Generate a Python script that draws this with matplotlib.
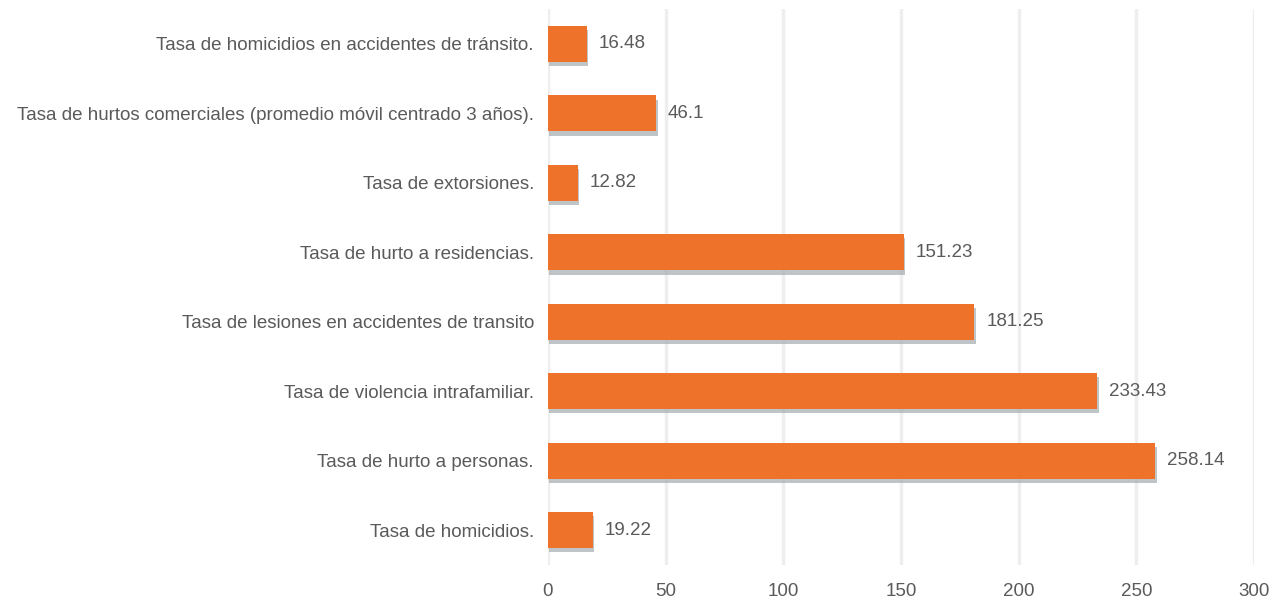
import matplotlib
matplotlib.use("Agg")
import matplotlib.pyplot as plt
import matplotlib.patheffects as pe
from matplotlib import font_manager

# data (top to bottom as in the picture)
categorias = [
    "Tasa de homicidios en accidentes de tránsito.",
    "Tasa de hurtos comerciales (promedio móvil centrado 3 años).",
    "Tasa de extorsiones.",
    "Tasa de hurto a residencias.",
    "Tasa de lesiones en accidentes de transito",
    "Tasa de violencia intrafamiliar.",
    "Tasa de hurto a personas.",
    "Tasa de homicidios.",
]
valores = [16.48, 46.1, 12.82, 151.23, 181.25, 233.43, 258.14, 19.22]
etiquetas = ["16.48", "46.1", "12.82", "151.23", "181.25", "233.43", "258.14", "19.22"]
ticks_x = [0, 50, 100, 150, 200, 250, 300]

nombres = {f.name for f in font_manager.fontManager.ttflist}
familia = "Liberation Sans Narrow" if "Liberation Sans Narrow" in nombres else "Liberation Sans"
plt.rcParams["font.family"] = [familia, "DejaVu Sans"]

gris = "#5a5a5a"
fs = 13.5

fig = plt.figure(figsize=(12.77, 6.16), dpi=100)
ax = fig.add_axes([0.429, 0.083, 0.553, 0.902])

pos = list(range(len(categorias)))[::-1]
barras = ax.barh(pos, valores, height=0.52, color="#ef722a", zorder=3)
for b in barras:
    b.set_path_effects([pe.SimplePatchShadow(offset=(1, -3), shadow_rgbFace="#a4abb0", alpha=0.7), pe.Normal()])

for y, v, t in zip(pos, valores, etiquetas):
    ax.text(v + 5, y, t, va="center", ha="left", fontsize=fs, color=gris)

ax.set_xlim(0, 300)
ax.set_ylim(-0.5, len(categorias) - 0.5)
ax.set_xticks(ticks_x)
ax.set_yticks(pos)
ax.set_yticklabels(categorias)
ax.tick_params(axis="both", length=0, labelsize=fs, colors=gris)
ax.tick_params(axis="y", pad=10)
ax.tick_params(axis="x", pad=13)
ax.grid(axis="x", color="#eeeeee", linewidth=2.5, zorder=0)
for s in ax.spines.values():
    s.set_visible(False)

fig.savefig("out.png", dpi=100, facecolor="white")
